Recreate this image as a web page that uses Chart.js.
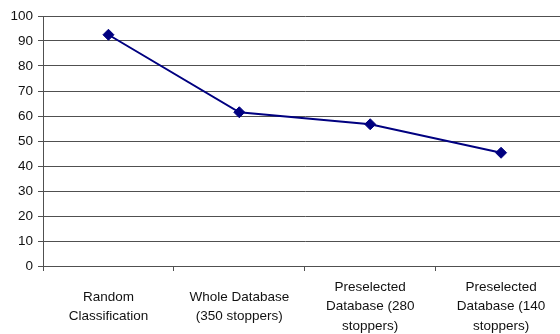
<!DOCTYPE html>
<html>
<head>
<meta charset="utf-8">
<script src="https://cdn.jsdelivr.net/npm/chart.js@4.4.1/dist/chart.umd.min.js"></script>
<style>
  html, body { margin: 0; padding: 0; background: #fff; overflow: hidden; }
  #chart { display: block; }
</style>
</head>
<body>
<canvas id="chart" width="573" height="334"></canvas>
<script>
// カテゴリ（複数行ラベル）
const categories = [
  ['Random', 'Classification'],
  ['Whole Database', '(350 stoppers)'],
  ['Preselected', 'Database (280', 'stoppers)'],
  ['Preselected', 'Database (140', 'stoppers)']
];
// 系列の値
const values = [92.5, 61.5, 56.7, 45.3];
// Y 軸の範囲
const yMin = 0;
const yMax = 100;
const yStep = 10;

const axisColor = '#505050';
const textColor = '#111';
const font = { family: 'Liberation Sans, Arial, sans-serif', size: 13.5, lineHeight: 1.45 };

new Chart(document.getElementById('chart'), {
  type: 'line',
  data: {
    labels: categories,
    datasets: [{
      data: values,
      borderColor: '#000080',
      backgroundColor: '#000080',
      borderWidth: 2,
      pointStyle: 'rectRot',
      pointRadius: 5.5,
      pointBorderWidth: 1,
      tension: 0,
    }]
  },
  options: {
    responsive: false,
    animation: false,
    layout: { padding: { left: 0, top: 16, right: 0, bottom: 0 } },
    plugins: {
      legend: { display: false },
      tooltip: { enabled: false },
    },
    scales: {
      x: {
        offset: true,
        border: { color: axisColor, width: 1 },
        grid: { offset: true, drawOnChartArea: false, tickLength: 5, color: axisColor },
        ticks: { color: textColor, font: font, padding: 16, maxRotation: 0, autoSkip: false, crossAlign: 'center' },
        afterFit: (scale) => { scale.height = 68; },
      },
      y: {
        min: yMin,
        max: yMax,
        border: { color: axisColor, width: 1 },
        grid: { color: axisColor, tickLength: 5 },
        ticks: { stepSize: yStep, color: textColor, font: font, padding: 5 },
        afterFit: (scale) => { scale.width = 43; },
      },
    },
  },
});
</script>
</body>
</html>
